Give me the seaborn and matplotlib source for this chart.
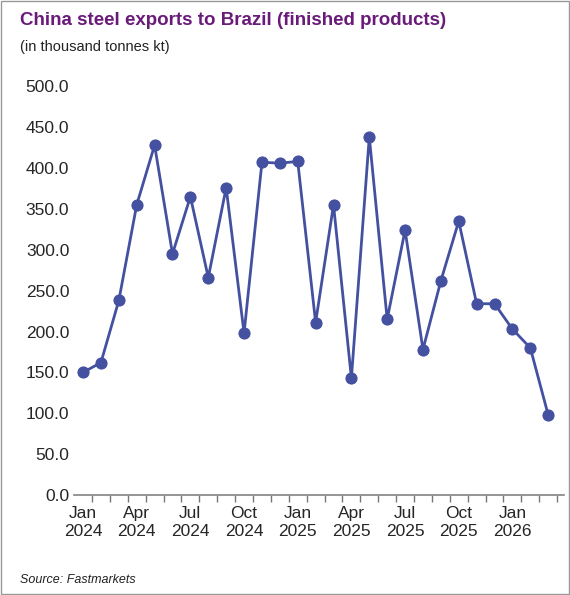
import matplotlib
matplotlib.use("Agg")
import matplotlib.pyplot as plt
import seaborn as sns
import pandas as pd
import numpy as np

months = ["Jan\n2024","Feb","Mar","Apr\n2024","May","Jun","Jul\n2024","Aug","Sep","Oct\n2024","Nov","Dec",
          "Jan\n2025","Feb","Mar","Apr\n2025","May","Jun","Jul\n2025","Aug","Sep","Oct\n2025","Nov","Dec",
          "Jan\n2026","Feb","Mar"]
values = [150,162,238,355,428,295,365,266,376,198,407,406,408,211,355,143,438,215,324,178,262,335,234,234,203,180,98]

sns.set_theme(style="white")
plt.rcParams['font.family'] = ['Liberation Sans', 'DejaVu Sans']

df = pd.DataFrame({"i": np.arange(len(values)), "v": values})
fig = plt.figure(figsize=(5.7, 5.95), dpi=100)
ax = fig.add_axes([0.13, 0.168, 0.86, 0.687])
color = "#4450a0"
sns.lineplot(data=df, x="i", y="v", ax=ax, color=color, lw=2, marker="o",
             markersize=8, markeredgecolor=color, markerfacecolor=color)
ax.set_xlim(-0.5, len(values) - 0.1)
ax.set_ylim(0, 500)
ax.set_yticks(np.arange(0, 501, 50))
ax.set_yticklabels([f"{t:.1f}" for t in np.arange(0, 501, 50)], fontsize=12.5)
lab_idx = [i for i, m in enumerate(months) if "\n" in m]
ax.set_xticks(lab_idx)
ax.set_xticklabels([months[i] for i in lab_idx], fontsize=12.5)
ax.tick_params(axis="x", which="major", length=0, pad=8)
ax.set_xticks(np.arange(len(values)) + 0.5, minor=True)
ax.tick_params(axis="x", which="minor", length=5, color="#777777", direction="out", bottom=True)
ax.tick_params(axis="y", length=0)
for s in ["top", "right", "left"]:
    ax.spines[s].set_visible(False)
ax.spines["bottom"].set_color("#888888")
ax.set_xlabel("")
ax.set_ylabel("")
fig.text(0.035, 0.958, "China steel exports to Brazil (finished products)", fontsize=13.5,
         fontweight="bold", color="#6a1b7a")
fig.text(0.035, 0.915, "(in thousand tonnes kt)", fontsize=10.5, color="#222222")
fig.text(0.035, 0.02, "Source: Fastmarkets", fontsize=9, style="italic", color="#222222")
fig.patches.append(plt.Rectangle((0.001, 0.001), 0.997, 0.997, transform=fig.transFigure,
                                 fill=False, edgecolor="#999999", lw=1))
fig.savefig("out.png", dpi=100)
